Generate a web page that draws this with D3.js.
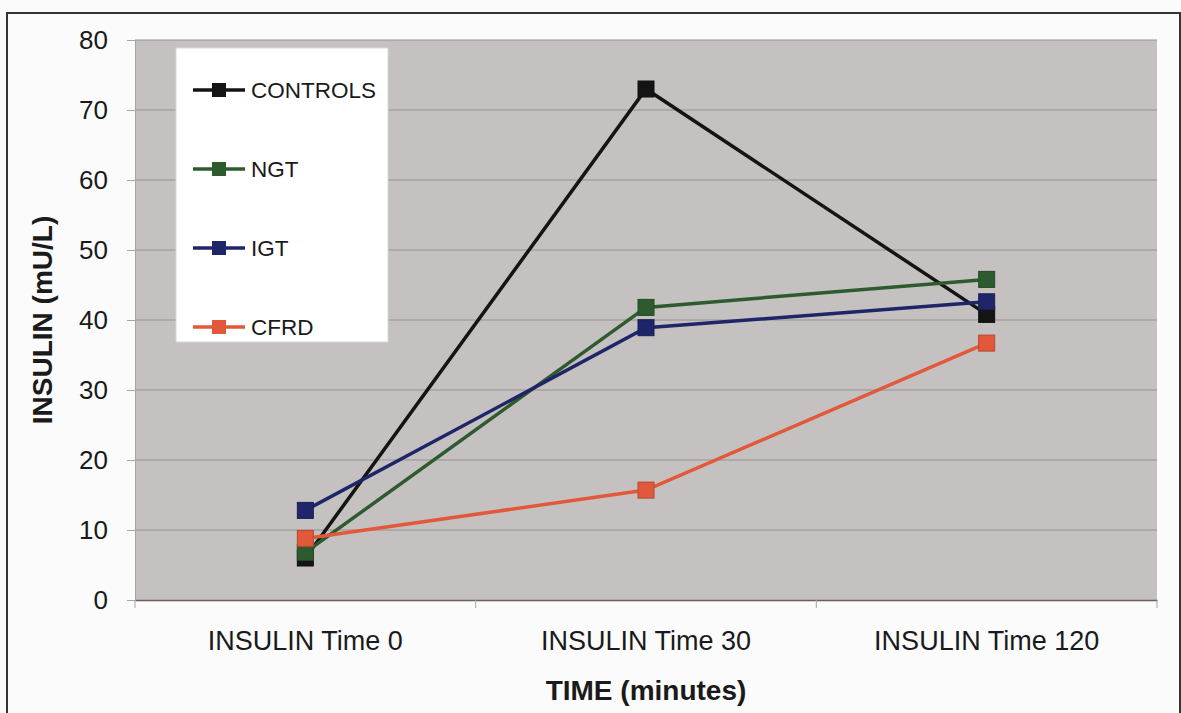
<!DOCTYPE html>
<html>
<head>
<meta charset="utf-8">
<script src="https://cdn.jsdelivr.net/npm/d3@7"></script>
<style>
  body { margin: 0; background: #fbfbfb; }
  text { font-family: "Liberation Sans", Arial, sans-serif; fill: #1a1a1a; }
</style>
</head>
<body>
<div id="chart"></div>
<script>
// --------------------------------------
//  Data
// --------------------------------------

const categories = ["INSULIN Time 0", "INSULIN Time 30", "INSULIN Time 120"];
const seriesNames = ["CONTROLS", "NGT", "IGT", "CFRD"];
const seriesColors = ["#141414", "#2e5b2e", "#1e2568", "#e2583a"];
const controls = [6.0, 73.0, 40.8];
const ngt = [6.8, 41.8, 45.8];
const igt = [12.8, 38.9, 42.6];
const cfrd = [8.8, 15.7, 36.7];
const yTicks = [0, 10, 20, 30, 40, 50, 60, 70, 80];

const seriesValues = [controls, ngt, igt, cfrd];

// --------------------------------------
//  Margin and canvas
// --------------------------------------

const width = 1181;
const height = 713;
const margin = {top: 40, right: 24, bottom: 113, left: 135};
const innerwidth = width - margin.left - margin.right;
const innerheight = height - margin.top - margin.bottom;

const svg = d3.select("#chart")
  .append("svg")
    .attr("width", width)
    .attr("height", height);

// outer frame
svg.append("rect")
    .attr("x", 7)
    .attr("y", 13)
    .attr("width", 1173)
    .attr("height", 720)
    .attr("fill", "none")
    .attr("stroke", "#333")
    .attr("stroke-width", 2);

const innerChart = svg
  .append("g")
    .attr("transform", `translate(${margin.left}, ${margin.top})`);

// --------------------------------------
//  Scales
// --------------------------------------

let x = d3.scaleBand()
    .domain(categories)
    .range([0, innerwidth])
    .padding(0);

let y = d3.scaleLinear()
    .domain([0, 80])
    .range([innerheight, 0]);

const cx = d => x(d) + x.bandwidth() / 2;

// --------------------------------------
//  Plot area + grid
// --------------------------------------

innerChart.append("rect")
    .attr("width", innerwidth)
    .attr("height", innerheight)
    .attr("fill", "#c5c1c1");

innerChart.append("g")
    .attr("class", "grid")
    .selectAll("line")
    .data(yTicks.filter(d => d > 0))
    .join("line")
    .attr("x1", 0)
    .attr("x2", innerwidth)
    .attr("y1", d => y(d))
    .attr("y2", d => y(d))
    .attr("stroke", "#969191")
    .attr("stroke-width", 1);

// --------------------------------------
//  Axes
// --------------------------------------

const yAxis = innerChart.append("g")
    .attr("class", "y-axis")
    .call(d3.axisLeft(y)
        .tickValues(yTicks)
        .tickSize(8)
        .tickPadding(19));

yAxis.select(".domain").attr("stroke", "#a5a5a5");
yAxis.selectAll(".tick line").attr("stroke", "#a5a5a5");
yAxis.selectAll("text")
    .style("font-size", "26px")
    .attr("fill", "#1a1a1a");

const xAxis = innerChart.append("g")
    .attr("class", "x-axis")
    .attr("transform", `translate(0, ${innerheight})`)
    .call(d3.axisBottom(x)
        .tickSize(0)
        .tickPadding(31));

xAxis.select(".domain").attr("stroke", "#6e5c5c").attr("stroke-width", 1.5);
xAxis.selectAll("text")
    .style("font-size", "27px")
    .attr("fill", "#1a1a1a");

// category separators below the axis
innerChart.append("g")
    .selectAll("line")
    .data(d3.range(categories.length + 1))
    .join("line")
    .attr("x1", i => i * x.bandwidth())
    .attr("x2", i => i * x.bandwidth())
    .attr("y1", innerheight)
    .attr("y2", innerheight + 8)
    .attr("stroke", "#a5a5a5");

// axis titles
svg.append("text")
    .attr("x", margin.left + innerwidth / 2)
    .attr("y", 700)
    .attr("text-anchor", "middle")
    .style("font-size", "28px")
    .style("font-weight", "bold")
    .text("TIME (minutes)");

svg.append("text")
    .attr("transform", `translate(52, ${margin.top + innerheight / 2}) rotate(-90)`)
    .attr("text-anchor", "middle")
    .style("font-size", "28px")
    .style("font-weight", "bold")
    .text("INSULIN (mU/L)");

// --------------------------------------
//  Data drawing
// --------------------------------------

const line = d3.line()
    .x((d, i) => cx(categories[i]))
    .y(d => y(d));

seriesValues.forEach((vals, s) => {
  const g = innerChart.append("g").attr("class", "series");
  g.append("path")
      .datum(vals)
      .attr("d", line)
      .attr("fill", "none")
      .attr("stroke", seriesColors[s])
      .attr("stroke-width", 3.5);
  g.selectAll("rect")
      .data(vals)
      .join("rect")
      .attr("x", (d, i) => cx(categories[i]) - 8)
      .attr("y", d => y(d) - 8)
      .attr("width", 16)
      .attr("height", 16)
      .attr("fill", seriesColors[s])
      .attr("stroke", d3.color(seriesColors[s]).darker(0.6))
      .attr("stroke-width", 1);
});

// --------------------------------------
//  Legend
// --------------------------------------

const legend = svg.append("g").attr("class", "legend");

legend.append("rect")
    .attr("x", 176)
    .attr("y", 48)
    .attr("width", 212)
    .attr("height", 294)
    .attr("fill", "#ffffff")
    .attr("stroke", "#d8d8d8");

const legendY = d3.scalePoint()
    .domain(seriesNames)
    .range([90, 327]);

const items = legend.selectAll(".item")
    .data(seriesNames)
    .join("g")
    .attr("class", "item")
    .attr("transform", d => `translate(0, ${legendY(d)})`);

items.append("line")
    .attr("x1", 193)
    .attr("x2", 245)
    .attr("stroke", (d, i) => seriesColors[i])
    .attr("stroke-width", 3.5);

items.append("rect")
    .attr("x", 212)
    .attr("y", -7)
    .attr("width", 14)
    .attr("height", 14)
    .attr("fill", (d, i) => seriesColors[i]);

items.append("text")
    .attr("x", 251)
    .attr("y", 8)
    .style("font-size", "22.5px")
    .text(d => d);
</script>
</body>
</html>
